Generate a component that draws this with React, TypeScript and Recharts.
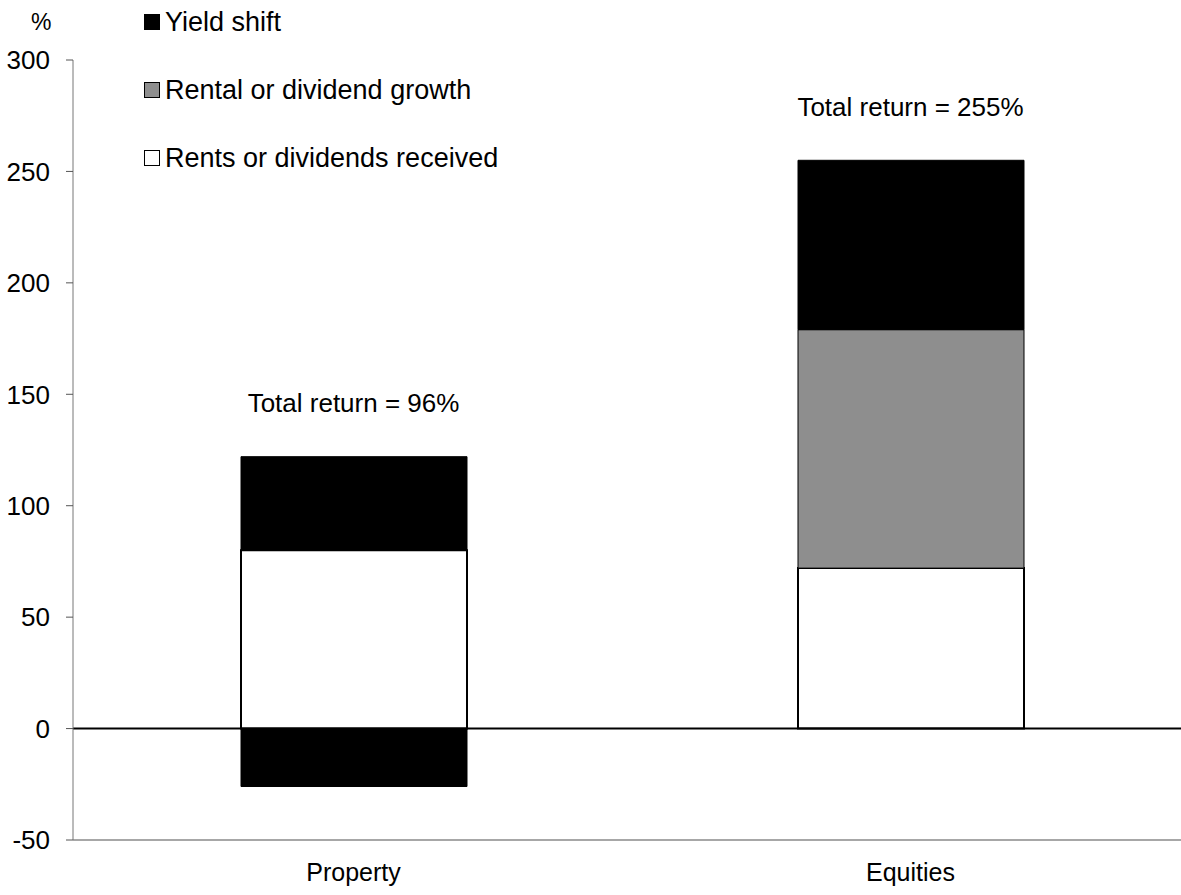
import { BarChart, Bar, XAxis, YAxis, ReferenceLine, ReferenceDot, Legend, Cell } from 'recharts'

document.body.style.margin = '0'

const categories = ['Property', 'Equities']
const rentsReceived = [80, 72]
const rentalGrowth = [42, 107]
const yieldShift = [-26, 76]
const totalReturn = [96, 255]
const yTicks = [-50, 0, 50, 100, 150, 200, 250, 300]

const FONT = '"Liberation Sans", Arial, Helvetica, sans-serif'
const GREY = '#8e8e8e'

const data = categories.map((name, i) => ({
  name,
  rents: rentsReceived[i],
  growth: rentalGrowth[i],
  yield: yieldShift[i],
}))

// legend rows, top to bottom
const legendRows = [
  { label: 'Yield shift', fill: '#000' },
  { label: 'Rental or dividend growth', fill: GREY },
  { label: 'Rents or dividends received', fill: '#fff' },
]

function LegendBox() {
  return (
    <div style={{ fontFamily: FONT, fontSize: 27, color: '#000' }}>
      {legendRows.map((r) => (
        <div key={r.label} style={{ display: 'flex', alignItems: 'center', height: 68 }}>
          <span
            style={{
              width: 14,
              height: 14,
              background: r.fill,
              border: '1.5px solid #000',
              marginRight: 5,
              display: 'inline-block',
            }}
          />
          <span>{r.label}</span>
        </div>
      ))}
    </div>
  )
}

export default function App() {
  return (
    <div style={{ position: 'relative', width: 1181, height: 895, overflow: 'hidden', background: '#fff' }}>
      <div style={{ position: 'absolute', left: 31, top: 9, fontFamily: FONT, fontSize: 23 }}>%</div>
      <BarChart
        width={1181}
        height={895}
        data={data}
        stackOffset="sign"
        margin={{ top: 60, right: 0, bottom: 0, left: 0 }}
        barSize={226}
      >
        <XAxis
          dataKey="name"
          height={55}
          padding={{ left: 2, right: -8 }}
          tickLine={false}
          tickSize={0}
          tickMargin={23}
          axisLine={{ stroke: '#8a8a8a', strokeWidth: 1.5 }}
          tick={{ fontSize: 25, fill: '#000', fontFamily: FONT }}
        />
        <YAxis
          width={73}
          domain={[-50, 300]}
          ticks={yTicks}
          interval={0}
          tickSize={7}
          tickMargin={16}
          axisLine={{ stroke: '#777' }}
          tickLine={{ stroke: '#555' }}
          tick={{ fontSize: 26, fill: '#000', fontFamily: FONT }}
        />
        <Legend
          layout="horizontal"
          verticalAlign="middle"
          wrapperStyle={{ position: 'absolute', left: 144, top: -12, width: 440 }}
          content={() => <LegendBox />}
        />
        <ReferenceLine y={0} stroke="#000" strokeWidth={2} />
        <Bar dataKey="rents" stackId="a" fill="#fff" stroke="#000" strokeWidth={2} isAnimationActive={false} />
        <Bar dataKey="growth" stackId="a" fill={GREY} stroke="#000" strokeWidth={1} isAnimationActive={false}>
          {data.map((d) => (
            <Cell key={d.name} fill={d.name === 'Property' ? '#000' : GREY} />
          ))}
        </Bar>
        <Bar dataKey="yield" stackId="a" fill="#000" stroke="#000" strokeWidth={1} isAnimationActive={false} />
        {categories.map((c, i) => (
          <ReferenceDot
            key={c}
            x={c}
            y={rentsReceived[i] + rentalGrowth[i] + Math.max(yieldShift[i], 0) + 24}
            r={0}
            stroke="none"
            fill="none"
            label={{
              value: `Total return = ${totalReturn[i]}%`,
              position: 'center',
              fontSize: 26,
              fill: '#000',
              fontFamily: FONT,
            }}
          />
        ))}
      </BarChart>
    </div>
  )
}
